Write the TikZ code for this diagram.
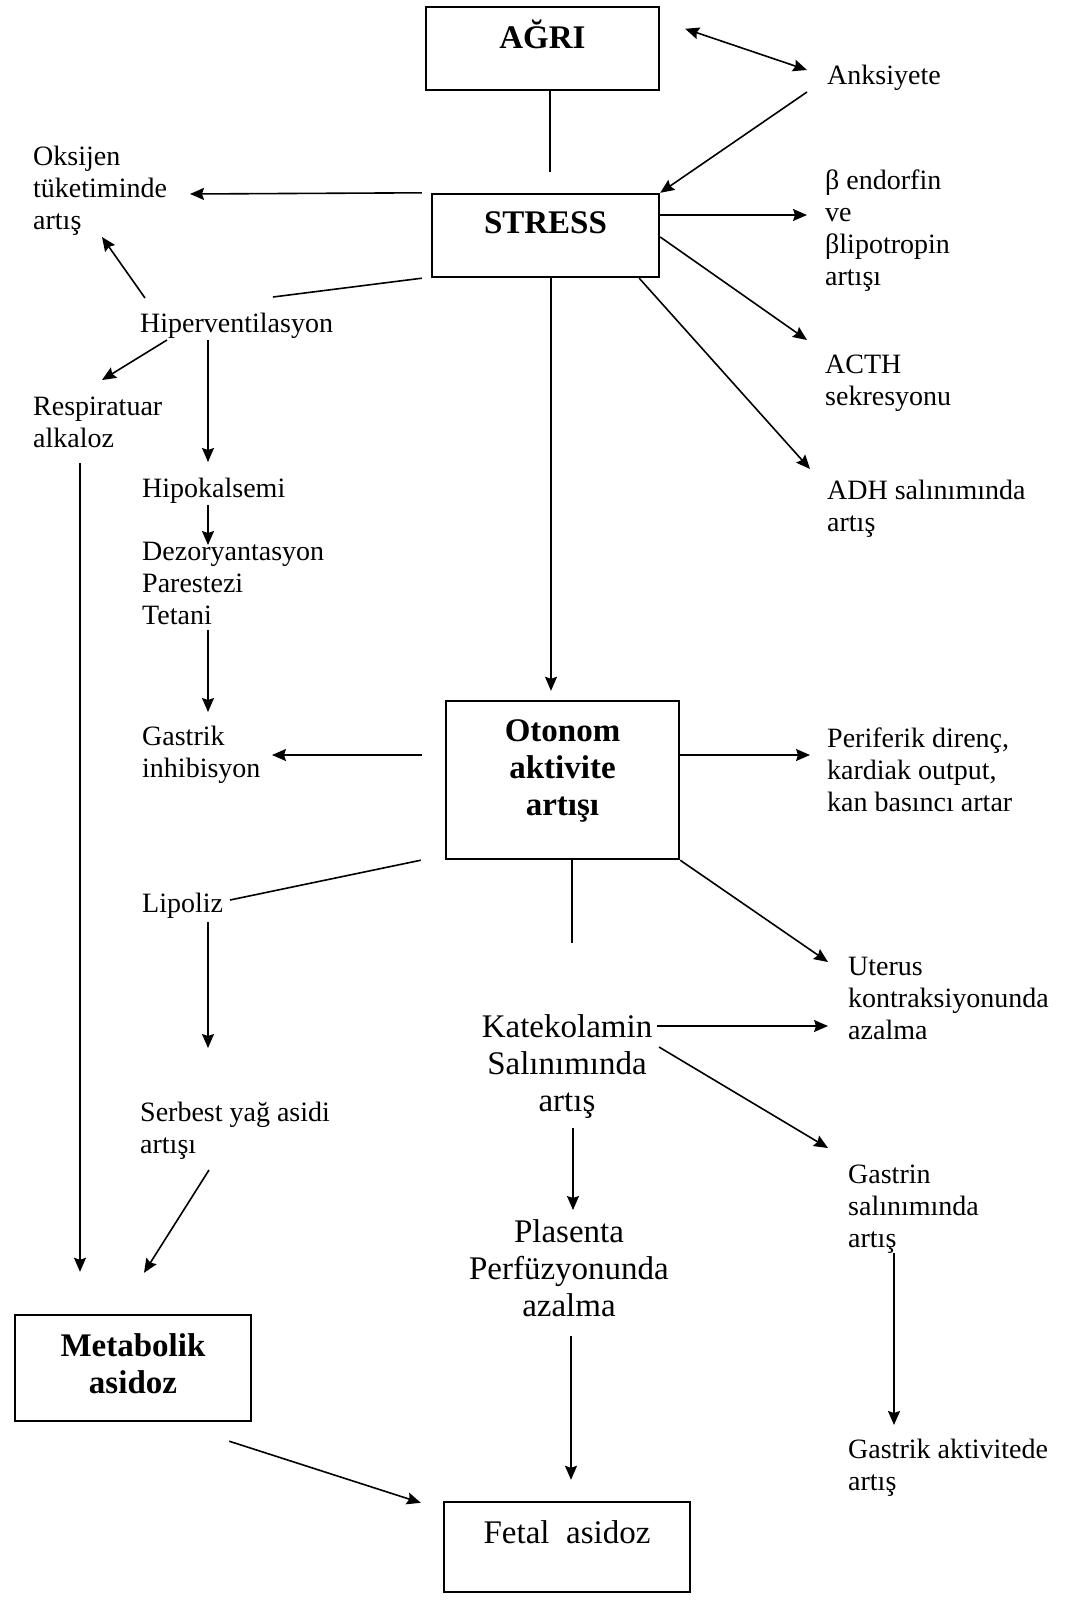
\documentclass[tikz,border=0pt]{standalone}
\usepackage{fontspec}
\setmainfont{Liberation Serif}
\usetikzlibrary{arrows.meta,calc}

\begin{document}
\begin{tikzpicture}[x=1pt,y=1pt,
        >={Stealth[length=14pt,width=12pt,inset=2pt]},
        boks/.style={draw, line width=2.4pt, inner sep=0pt, align=center,
            font=\fontsize{33}{37}\selectfont\bfseries},
        yazi/.style={anchor=base west, inner sep=0pt, align=left,
            font=\fontsize{28}{32}\selectfont},
        buyukyazi/.style={anchor=base, inner sep=0pt, align=center,
            font=\fontsize{33}{37}\selectfont},
        pil/.style={->, line width=1.6pt},
        ciftpil/.style={<->, line width=1.6pt},
        cizgi/.style={line width=1.6pt}]
        \fill[white] (0,0) rectangle (1067,-1604);
        \useasboundingbox (0,0) rectangle (1067,-1604);

        % Kutular
        \node[boks, minimum width=233pt, minimum height=83pt, text height=24pt, text depth=24pt] (agri) at (542.5,-48.5) {AĞRI};
        \node[boks, minimum width=227pt, minimum height=83pt, text height=24pt, text depth=28pt] (stress) at (545.5,-235.5) {STRESS};
        \node[boks, minimum width=233pt, minimum height=158pt, text height=94pt, text depth=24pt] (otonom) at (562.5,-780) {Otonom\\aktivite\\artışı};
        \node[boks, minimum width=236pt, minimum height=106pt, text height=74pt, text depth=24pt] (metab) at (133,-1368) {Metabolik\\asidoz};
        \node[boks, font=\fontsize{33}{37}\selectfont, minimum width=246pt, minimum height=90pt, text height=24pt, text depth=32pt] (fetal) at (567,-1547) {Fetal~~asidoz};

        % Sol taraf (konum = son satirin tabani)
        \node[yazi] (oks) at (33,-229) {Oksijen\\tüketiminde\\artış};
        \node[yazi] (hiper) at (140,-332) {Hiperventilasyon};
        \node[yazi] (resp) at (33,-447) {Respiratuar\\alkaloz};
        \node[yazi] (hipok) at (142,-497) {Hipokalsemi};
        \node[yazi] (dezor) at (142,-624) {Dezoryantasyon\\Parestezi\\Tetani};
        \node[yazi] (gastinh) at (142,-777) {Gastrik\\inhibisyon};
        \node[yazi] (lipo) at (142,-912) {Lipoliz};
        \node[yazi] (serbest) at (140,-1153) {Serbest yağ asidi\\artışı};

        % Sag taraf
        \node[yazi] (anks) at (827,-84) {Anksiyete};
        \node[yazi] (beta) at (825,-285) {β endorfin\\ve\\βlipotropin\\artışı};
        \node[yazi] (acth) at (825,-405) {ACTH\\sekresyonu};
        \node[yazi] (adh) at (827,-531) {ADH salınımında\\artış};
        \node[yazi] (perif) at (827,-811) {Periferik direnç,\\kardiak output,\\kan basıncı artar};
        \node[yazi] (uterus) at (848,-1039) {Uterus\\kontraksiyonunda\\azalma};
        \node[yazi] (gastrin) at (848,-1247) {Gastrin\\salınımında\\artış};
        \node[yazi] (gastakt) at (848,-1490) {Gastrik aktivitede\\artış};

        % Orta
        \node[buyukyazi] (kate) at (567,-1111) {Katekolamin\\Salınımında\\artış};
        \node[buyukyazi] (plas) at (569,-1316) {Plasenta\\Perfüzyonunda\\azalma};

        % AĞRI ve STRESS
        \draw[ciftpil] ($(agri.north east)+(25,-23)$) -- ($(anks.base west)+(-20,14)$);
        \draw[pil] ($(anks.base west)+(-20,-8)$) -- (stress.north east);
        \draw[cizgi] ($(agri.south)+(7.5,0)$) -- ($(stress.north)+(4.5,21)$);
        \draw[pil] ($(stress.north west)+(-9,0)$) -- ($(oks.base west)+(157,35)$);
        \draw[pil] ($(stress.east)+(0,20.5)$) -- ($(beta.base west)+(-18,70)$);
        \draw[pil] ($(stress.east)+(0,-1.5)$) -- ($(acth.base west)+(-18,65)$);
        \draw[pil] ($(stress.south east)+(-21,0)$) -- ($(adh.base west)+(-17,62)$);
        \draw[cizgi] ($(stress.south west)+(-9,0)$) -- ($(hiper.base west)+(133,35)$);
        \draw[pil] ($(stress.south)+(5.5,0)$) -- ($(otonom.north)+(-11.5,9)$);

        % Hiperventilasyon zinciri
        \draw[pil] ($(hiper.base west)+(5,34)$) -- ($(oks.base west)+(69,-8)$);
        \draw[pil] ($(hiper.base west)+(27,-8)$) -- ($(resp.base west)+(69,67)$);
        \draw[pil] ($(hiper.base west)+(68,-8)$) -- ($(hipok.base west)+(66,35)$);
        \draw[pil] ($(hipok.base west)+(66,-8)$) -- ($(dezor.base west)+(66,79)$);
        \draw[pil] ($(dezor.base west)+(66,-6)$) -- ($(gastinh.base west)+(66,65)$);
        \draw[pil] ($(resp.base west)+(47,-16)$) -- ($(metab.north)+(-53,42)$);

        % Otonom aktivite
        \draw[pil] ($(otonom.west)+(-23,25)$) -- ($(gastinh.base west)+(130,22)$);
        \draw[pil] ($(otonom.east)+(0,25)$) -- ($(perif.base west)+(-17,56)$);
        \draw[cizgi] ($(otonom.south west)+(-24,0)$) -- ($(lipo.base west)+(88,12)$);
        \draw[pil] ($(lipo.base west)+(66,-10)$) -- ($(serbest.base west)+(68,105)$);
        \draw[pil] ($(serbest.base west)+(69,-17)$) -- ($(metab.north)+(11,41)$);
        \draw[cizgi] ($(otonom.south)+(9.5,0)$) -- ($(kate.base)+(5,168)$);
        \draw[pil] (otonom.south east) -- ($(uterus.base west)+(-20,77)$);

        % Katekolamin
        \draw[pil] ($(kate.base)+(90,85)$) -- ($(uterus.base west)+(-20,13)$);
        \draw[pil] ($(kate.base)+(92,64)$) -- ($(gastrin.base west)+(-20,99)$);
        \draw[pil] ($(kate.base)+(6,-17)$) -- ($(plas.base)+(4,106)$);
        \draw[pil] ($(gastrin.base west)+(46,-6)$) -- ($(gastakt.base west)+(46,65)$);

        % Asidoz
        \draw[pil] ($(plas.base)+(2,-20)$) -- ($(fetal.north)+(4,21)$);
        \draw[pil] ($(metab.south east)+(-23,-19)$) -- ($(fetal.north west)+(-22,-2)$);
\end{tikzpicture}
\end{document}
